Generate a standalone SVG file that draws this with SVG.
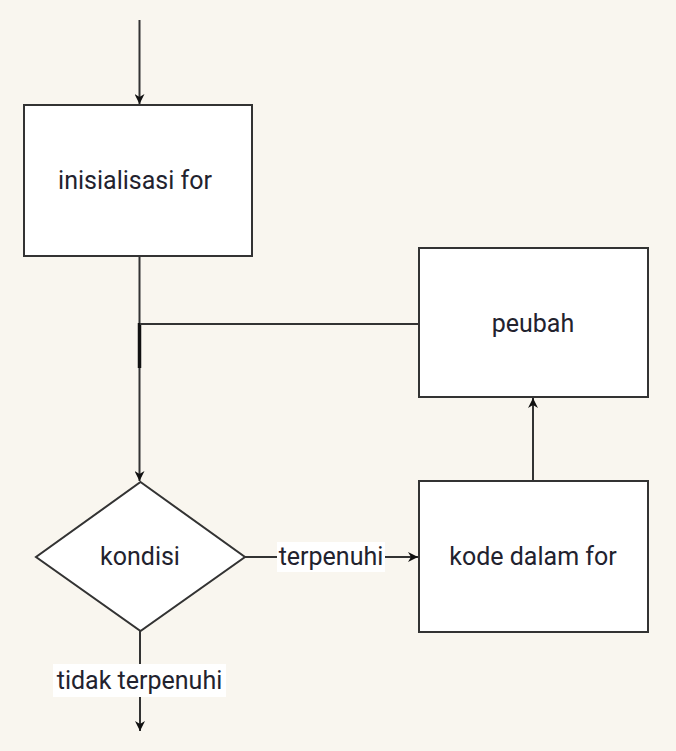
<svg xmlns="http://www.w3.org/2000/svg" width="676" height="751" viewBox="0 0 676 751">
<style>
.bg{fill:#f9f6ef}
.box{fill:#ffffff;stroke:#333333;stroke-width:2}
.ln{fill:none;stroke:#333333;stroke-width:2}
.t{font-family:Roboto,"Liberation Sans",sans-serif;font-size:25px;fill:#22222e;text-anchor:middle}
.lbl{fill:#ffffff}
</style>
<defs>
<marker id="arr" viewBox="0 0 10 10" refX="10" refY="5" markerWidth="10" markerHeight="10" orient="auto" markerUnits="userSpaceOnUse">
<path d="M0,0 L10,5 L0,10 L3,5 Z" fill="#111111"/>
</marker>
</defs>
<rect class="bg" x="0" y="0" width="676" height="751"/>
<g id="connectors">
<line class="ln" x1="139.5" y1="20" x2="139.5" y2="104" marker-end="url(#arr)"/>
<line class="ln" x1="139.5" y1="257" x2="139.5" y2="481" marker-end="url(#arr)"/>
<line x1="139.5" y1="323" x2="139.5" y2="368" stroke="#111111" stroke-width="3.5"/>
<line class="ln" x1="140" y1="324" x2="418" y2="324"/>
<line class="ln" x1="533" y1="481" x2="533" y2="398" marker-end="url(#arr)"/>
<line class="ln" x1="245" y1="557" x2="418" y2="557" marker-end="url(#arr)"/>
<line class="ln" x1="140" y1="631" x2="140" y2="731" marker-end="url(#arr)"/>
<rect class="lbl" x="277" y="542" width="108" height="30"/>
<text class="t" x="331" y="565">terpenuhi</text>
<rect class="lbl" x="53" y="664" width="173" height="33"/>
<text class="t" x="139.5" y="689">tidak terpenuhi</text>
</g>
<g id="init">
<rect class="box" x="24" y="105" width="228" height="151"/>
<text class="t" x="135" y="189">inisialisasi for</text>
</g>
<g id="peubah">
<rect class="box" x="419" y="248" width="229" height="149"/>
<text class="t" x="533" y="332">peubah</text>
</g>
<g id="kode">
<rect class="box" x="419" y="481" width="229" height="151"/>
<text class="t" x="533" y="565">kode dalam for</text>
</g>
<g id="kondisi">
<polygon class="box" points="140.5,482 245,557 140.5,631 36,557"/>
<text class="t" x="140" y="565">kondisi</text>
</g>
</svg>
